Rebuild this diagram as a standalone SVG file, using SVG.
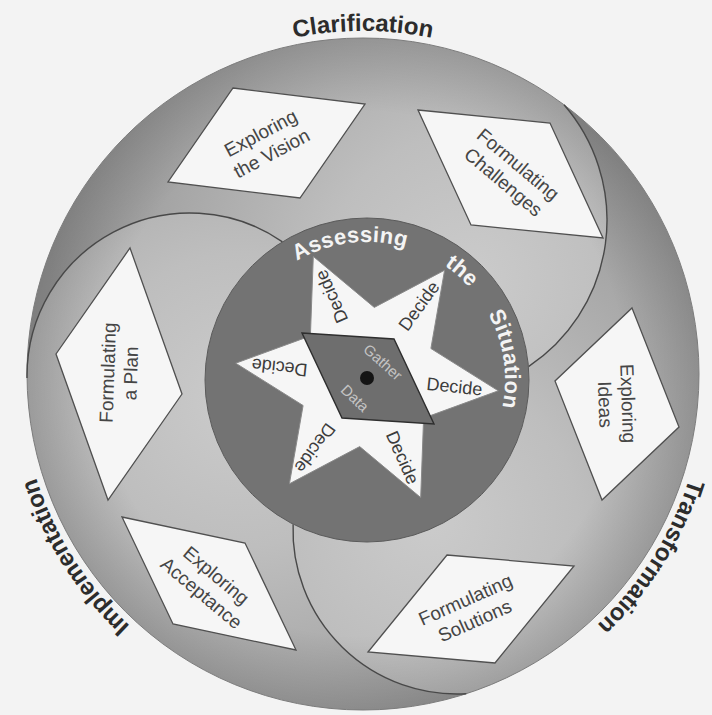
<svg xmlns="http://www.w3.org/2000/svg" width="712" height="715" viewBox="0 0 712 715">
<defs>
<style>
.shape{fill:#f6f6f6;stroke:#505050;stroke-width:1.3}
.lbl{font-family:"Liberation Sans",Arial,sans-serif;font-size:19px;fill:#454545;text-anchor:middle}
.dec{font-family:"Liberation Sans",Arial,sans-serif;font-size:18px;fill:#3c3c3c;text-anchor:middle}
.gd{font-family:"Liberation Sans",Arial,sans-serif;font-size:15px;fill:#c4c4c4;text-anchor:middle}
.phase{font-family:"Liberation Sans",Arial,sans-serif;font-size:24px;font-weight:bold;fill:#2c2c2c;text-anchor:middle}
.assess{font-family:"Liberation Sans",Arial,sans-serif;font-size:22px;font-weight:bold;fill:#f4f4f4;letter-spacing:0.3px}
.divider{fill:none;stroke:#484848;stroke-width:1.4}
</style>
<radialGradient id="gC" gradientUnits="userSpaceOnUse" cx="470" cy="280" r="420">
<stop offset="0" stop-color="#cbcbcb"/><stop offset="0.35" stop-color="#bebebe"/><stop offset="0.7" stop-color="#a8a8a8"/><stop offset="1" stop-color="#939393"/>
</radialGradient>
<radialGradient id="gT" gradientUnits="userSpaceOnUse" cx="430" cy="520" r="420">
<stop offset="0" stop-color="#cbcbcb"/><stop offset="0.35" stop-color="#bebebe"/><stop offset="0.7" stop-color="#a8a8a8"/><stop offset="1" stop-color="#939393"/>
</radialGradient>
<radialGradient id="gI" gradientUnits="userSpaceOnUse" cx="240" cy="400" r="420">
<stop offset="0" stop-color="#cbcbcb"/><stop offset="0.35" stop-color="#bebebe"/><stop offset="0.7" stop-color="#a8a8a8"/><stop offset="1" stop-color="#939393"/>
</radialGradient>
<radialGradient id="gRim" gradientUnits="userSpaceOnUse" cx="363" cy="374" r="336">
<stop offset="0" stop-color="#000" stop-opacity="0"/><stop offset="0.78" stop-color="#000" stop-opacity="0"/><stop offset="1" stop-color="#000" stop-opacity="0.14"/>
</radialGradient>
<path id="pClar" d="M142.5 111.2 A343 343 0 0 1 583.5 111.2"/>
<path id="pTrans" d="M702 327.4 A343 343 0 0 1 466 701.7"/>
<path id="pImpl" d="M259.3 700.9 A343 343 0 0 1 23 328.6"/>
<path id="pAssess" d="M269.4 282.4 A138 138 0 0 1 472.7 468.7"/>
</defs>
<rect width="712" height="715" fill="#f3f3f3"/>
<g id="regions">
<path id="region-clarification" fill="url(#gC)" d="M27 377.9 A336 336 0 0 1 564 104.8 A176 176 0 0 1 528.5 366.6 A162 162 0 0 0 282.5 241.8 A163 163 0 0 0 27 377.9 Z"/>
<path id="region-transformation" fill="url(#gT)" d="M564 104.8 A336 336 0 0 1 466.3 693.7 A164 164 0 0 1 293.1 524.2 A162 162 0 0 0 528.5 366.6 A176 176 0 0 0 564 104.8 Z"/>
<path id="region-implementation" fill="url(#gI)" d="M466.3 693.7 A336 336 0 0 1 27 377.9 A163 163 0 0 1 282.5 241.8 A162 162 0 0 0 293.1 524.2 A164 164 0 0 0 466.3 693.7 Z"/>
<circle cx="363" cy="374" r="336" fill="url(#gRim)" stroke="#7c7c7c" stroke-width="1"/>
</g>
<g id="connectors">
<path class="divider" d="M27 377.9 A163 163 0 0 1 282.5 241.8"/>
<path class="divider" d="M564 104.8 A176 176 0 0 1 528.5 366.6"/>
<path class="divider" d="M293.1 524.2 A164 164 0 0 0 466.3 693.7"/>
</g>
<g id="labels-phases">
<text class="phase"><textPath href="#pClar" startOffset="50%">Clarification</textPath></text>
<text class="phase"><textPath href="#pTrans" startOffset="50%">Transformation</textPath></text>
<text class="phase"><textPath href="#pImpl" startOffset="50%">Implementation</textPath></text>
</g>
<g id="node-exploring-vision">
<polygon class="shape" points="233,88 365,104 300,198 168,182"/>
<text class="lbl" transform="translate(266,143) rotate(-28)"><tspan x="0" y="-4.7">Exploring</tspan><tspan x="0" y="18.3">the Vision</tspan></text>
</g>
<g id="node-formulating-challenges">
<polygon class="shape" points="418,110 550,123 603,238 471,225"/>
<text class="lbl" transform="translate(511,173) rotate(40)"><tspan x="0" y="-4.7">Formulating</tspan><tspan x="0" y="18.3">Challenges</tspan></text>
</g>
<g id="node-exploring-ideas">
<polygon class="shape" points="632,308 679,427 602,500 555,381"/>
<text class="lbl" transform="translate(617,404) rotate(88)"><tspan x="0" y="-4.7">Exploring</tspan><tspan x="0" y="18.3">Ideas</tspan></text>
</g>
<g id="node-formulating-solutions">
<polygon class="shape" points="447,555 574,566 495,663 368,652"/>
<text class="lbl" transform="translate(470,610) rotate(-24)"><tspan x="0" y="-4.7">Formulating</tspan><tspan x="0" y="18.3">Solutions</tspan></text>
</g>
<g id="node-exploring-acceptance">
<polygon class="shape" points="122,517 245,543 296,650 173,624"/>
<text class="lbl" transform="translate(209,584) rotate(40)"><tspan x="0" y="-4.7">Exploring</tspan><tspan x="0" y="18.3">Acceptance</tspan></text>
</g>
<g id="node-formulating-plan">
<polygon class="shape" points="130,248 182,394 108,500 56,354"/>
<text class="lbl" transform="translate(119,373) rotate(-88)"><tspan x="0" y="-4.7">Formulating</tspan><tspan x="0" y="18.3">a Plan</tspan></text>
</g>
<g id="node-assessing">
<circle cx="367" cy="380" r="162" fill="#737373" stroke="#5a5a5a" stroke-width="1"/>
<text class="assess"><textPath href="#pAssess" startOffset="35">Assessing</textPath></text>
<text class="assess"><textPath href="#pAssess" startOffset="190.3">the</textPath></text>
<text class="assess"><textPath href="#pAssess" startOffset="256">Situation</textPath></text>
</g>
<g id="node-star">
<path fill="#f6f6f6" stroke="#8a8a8a" stroke-width="1" d="M313.3 256.4 L374.3 307.4 L444.6 270.2 L430.9 348.5 L498.3 390.8 L423.6 418.1 L420.7 497.6 L359.7 446.6 L289.4 483.8 L303.1 405.5 L235.7 363.2 L310.4 335.9 Z"/>
<text class="dec" transform="translate(331.2,296.6) rotate(-114)" y="6.4">Decide</text>
<text class="dec" transform="translate(418.7,305.8) rotate(-54)" y="6.4">Decide</text>
<text class="dec" transform="translate(454.5,386.2) rotate(6)" y="6.4">Decide</text>
<text class="dec" transform="translate(402.8,457.4) rotate(66)" y="6.4">Decide</text>
<text class="dec" transform="translate(315.3,448.2) rotate(126)" y="6.4">Decide</text>
<text class="dec" transform="translate(279.5,367.8) rotate(186)" y="6.4">Decide</text>
</g>
<g id="node-gather-data">
<polygon points="302,333 394,339 434,424 342,418" fill="#6e6e6e" stroke="#2e2e2e" stroke-width="1.4"/>
<circle cx="367" cy="378" r="7" fill="#141414"/>
<text class="gd" transform="translate(383,362) rotate(42)" y="5.4">Gather</text>
<text class="gd" transform="translate(355,398) rotate(44)" y="5.4">Data</text>
</g>
</svg>
